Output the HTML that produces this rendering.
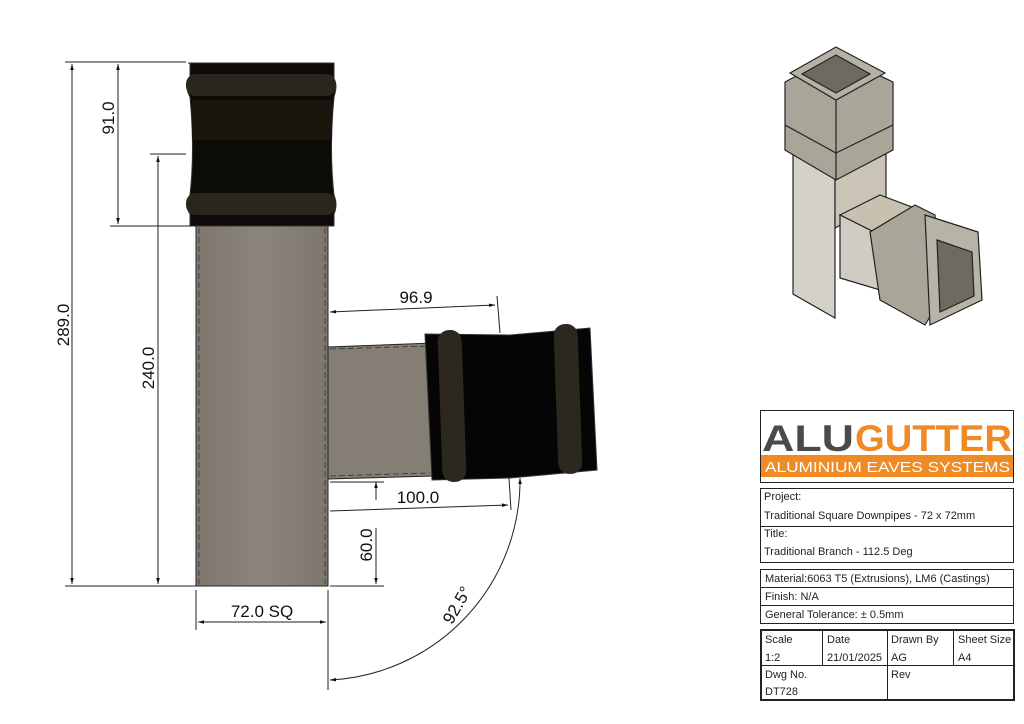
<!DOCTYPE html>
<html><head><style>
body{margin:0;background:#fff;width:1024px;height:724px;overflow:hidden;font-family:"Liberation Sans",sans-serif}
svg{position:absolute;left:0;top:0}
.t{font-family:"Liberation Sans",sans-serif;font-size:11px;fill:#222}
.d{font-family:"Liberation Sans",sans-serif;font-size:17px;fill:#111}
</style></head><body>
<svg width="1024" height="724" viewBox="0 0 1024 724">
<defs>
<marker id="a" viewBox="0 0 10 10" refX="10" refY="5" markerWidth="9" markerHeight="6" orient="auto-start-reverse"><path d="M0,2 L10,5 L0,8z" fill="#111"/></marker>
<linearGradient id="g" x1="0" x2="1"><stop offset="0" stop-color="#7f776e"/><stop offset=".5" stop-color="#8c857c"/><stop offset="1" stop-color="#7d766d"/></linearGradient>
</defs>
<!-- main pipe -->
<rect x="196" y="226" width="132" height="360" fill="url(#g)" stroke="#222"/>
<line x1="199" y1="228" x2="199" y2="584" stroke="#333" stroke-dasharray="6,3" stroke-width=".8"/>
<line x1="325" y1="228" x2="325" y2="584" stroke="#333" stroke-dasharray="6,3" stroke-width=".8"/>
<!-- top socket -->
<path d="M188,63 H334 V80 Q338,84 334,97 Q329,150 334,195 Q338,205 334,214 V226 H190 V214 Q184,205 190,195 Q195,150 190,97 Q184,86 190,80 V63z" fill="#0d0b08" stroke="#333"/>
<rect x="186" y="74" width="150" height="22" rx="10" fill="#2a261d"/>
<rect x="186" y="193" width="150" height="22" rx="10" fill="#2a261d"/>
<rect x="192" y="100" width="140" height="40" fill="#1a160e"/>
<!-- branch pipe -->
<path d="M328,347 L433,343 L433,476 L328,479z" fill="#857e75" stroke="#222"/>
<line x1="330" y1="349" x2="430" y2="346" stroke="#333" stroke-dasharray="6,3" stroke-width=".8"/>
<line x1="330" y1="476" x2="430" y2="473" stroke="#333" stroke-dasharray="6,3" stroke-width=".8"/>
<!-- branch socket -->
<path d="M425,334 L510,335 L590,328 L597,470 L510,478 L432,480z" fill="#050505" stroke="#333"/>
<rect x="440" y="330" width="24" height="152" rx="11" fill="#2c281f" transform="rotate(-2 452 406)"/>
<rect x="556" y="324" width="24" height="150" rx="11" fill="#2c281f" transform="rotate(-2 568 400)"/>
<!-- dimension lines -->
<g stroke="#222" stroke-width="1" fill="none">
<line x1="65" y1="62" x2="186" y2="62"/>
<line x1="110" y1="226" x2="196" y2="226"/>
<line x1="150" y1="154" x2="186" y2="154"/>
<line x1="65" y1="586" x2="196" y2="586"/>
<line x1="330" y1="586" x2="384" y2="586"/>
<line x1="72" y1="64" x2="72" y2="584" marker-start="url(#a)" marker-end="url(#a)"/>
<line x1="118" y1="64" x2="118" y2="224" marker-start="url(#a)" marker-end="url(#a)"/>
<line x1="158" y1="156" x2="158" y2="584" marker-start="url(#a)" marker-end="url(#a)"/>
<line x1="330" y1="312" x2="495" y2="305" marker-start="url(#a)" marker-end="url(#a)"/>
<line x1="497" y1="296" x2="500" y2="333"/>
<line x1="330" y1="511" x2="508" y2="505" marker-end="url(#a)"/>
<line x1="509" y1="478" x2="511" y2="510"/>
<line x1="376" y1="500" x2="376" y2="482" marker-end="url(#a)"/>
<line x1="376" y1="528" x2="376" y2="584" marker-end="url(#a)"/>
<line x1="330" y1="482" x2="384" y2="482"/>
<line x1="196" y1="590" x2="196" y2="630"/>
<line x1="328" y1="590" x2="328" y2="690"/>
<line x1="198" y1="622" x2="326" y2="622" marker-start="url(#a)" marker-end="url(#a)"/>
<path d="M330,680 A200,200 0 0 0 520,478" marker-start="url(#a)" marker-end="url(#a)"/>
</g>
<text class="d" transform="translate(69,325) rotate(-90)" text-anchor="middle">289.0</text>
<text class="d" transform="translate(114,118) rotate(-90)" text-anchor="middle">91.0</text>
<text class="d" transform="translate(154,368) rotate(-90)" text-anchor="middle">240.0</text>
<text class="d" transform="translate(372,545) rotate(-90)" text-anchor="middle">60.0</text>
<text class="d" x="416" y="303" text-anchor="middle">96.9</text>
<text class="d" x="418" y="503" text-anchor="middle">100.0</text>
<text class="d" x="262" y="617" text-anchor="middle">72.0 SQ</text>
<text class="d" transform="translate(462,608) rotate(-60)" text-anchor="middle">92.5°</text>
<!-- 3D view -->
<g stroke="#222" stroke-width="1.2">
<path d="M793,135 L835,160 L835,318 L793,294z" fill="#d4d1c9"/>
<path d="M835,160 L886,132 L886,200 L835,228z" fill="#c9c4b6"/>
<path d="M840,215 L880,195 L925,212 L880,235z" fill="#c8c1b0"/>
<path d="M840,215 L880,235 L880,290 L840,278z" fill="#d0ccc4"/>
<path d="M870,232 L915,205 L935,215 L940,300 L925,325 L880,300z" fill="#a9a598"/>
<path d="M925,215 L978,232 L982,300 L930,325z" fill="#b7b3a6"/>
<path d="M937,240 L972,252 L974,296 L940,312z" fill="#6e6a60"/>
<path d="M785,82 L836,55 L893,82 L893,150 L836,180 L785,150z" fill="#a9a598"/>
<path d="M790,73 L836,47 L885,73 L836,100z" fill="#b5b1a4"/>
<path d="M802,74 L836,55 L870,74 L836,93z" fill="#6e6a60"/>
<line x1="785" y1="125" x2="836" y2="153"/><line x1="836" y1="153" x2="893" y2="125"/>
<line x1="836" y1="100" x2="836" y2="180"/>
</g>
<!-- title block -->
<g stroke="#222" fill="none">
<rect x="760.5" y="410.5" width="253" height="72"/>
<rect x="760.5" y="488.5" width="253" height="74"/>
<line x1="760" y1="526.5" x2="1014" y2="526.5"/>
<rect x="760.5" y="569.5" width="253" height="54"/>
<line x1="760" y1="587.5" x2="1014" y2="587.5"/>
<line x1="760" y1="605.5" x2="1014" y2="605.5"/>
<rect x="761" y="630" width="253" height="70" stroke-width="2"/>
<line x1="760" y1="665.5" x2="1014" y2="665.5"/>
<line x1="822.5" y1="630" x2="822.5" y2="665"/>
<line x1="887.5" y1="630" x2="887.5" y2="700"/>
<line x1="953.5" y1="630" x2="953.5" y2="665"/>
</g>
<text x="762" y="451" font-family="Liberation Sans" font-weight="bold" font-size="37" fill="#4a4a4a" textLength="92" lengthAdjust="spacingAndGlyphs">ALU</text>
<text x="855" y="451" font-family="Liberation Sans" font-weight="bold" font-size="37" fill="#f08a24" textLength="157" lengthAdjust="spacingAndGlyphs">GUTTER</text>
<rect x="761" y="455" width="252" height="22" fill="#f08a24"/>
<text x="765" y="472" font-family="Liberation Sans" font-size="15" fill="#fff" textLength="245" lengthAdjust="spacingAndGlyphs">ALUMINIUM EAVES SYSTEMS</text>
<text class="t" x="764" y="500">Project:</text>
<text class="t" x="764" y="519">Traditional Square Downpipes - 72 x 72mm</text>
<text class="t" x="764" y="537">Title:</text>
<text class="t" x="764" y="555">Traditional Branch - 112.5 Deg</text>
<text class="t" x="765" y="582">Material:6063 T5 (Extrusions), LM6 (Castings)</text>
<text class="t" x="765" y="600">Finish: N/A</text>
<text class="t" x="765" y="618">General Tolerance: ± 0.5mm</text>
<text class="t" x="765" y="643">Scale</text><text class="t" x="765" y="661">1:2</text>
<text class="t" x="827" y="643">Date</text><text class="t" x="827" y="661">21/01/2025</text>
<text class="t" x="891" y="643">Drawn By</text><text class="t" x="891" y="661">AG</text>
<text class="t" x="958" y="643">Sheet Size</text><text class="t" x="958" y="661">A4</text>
<text class="t" x="765" y="678">Dwg No.</text><text class="t" x="765" y="695">DT728</text>
<text class="t" x="891" y="678">Rev</text>
</svg>
</body></html>
